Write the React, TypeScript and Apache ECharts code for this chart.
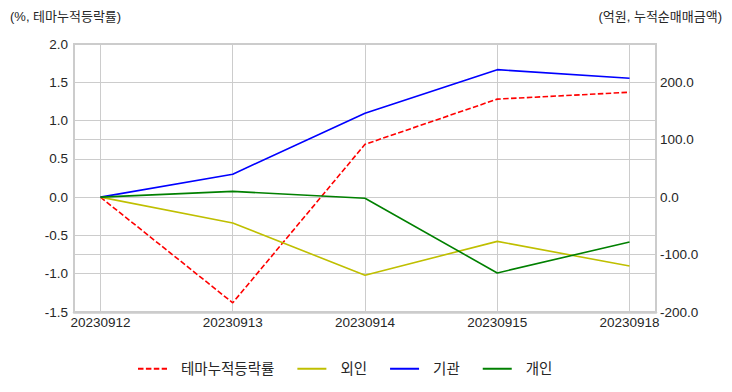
import React, { useEffect, useRef } from "react";
import * as echarts from "echarts";

const categories = ["20230912", "20230913", "20230914", "20230915", "20230918"];
const themeReturn = [0.0, -1.38, 0.69, 1.28, 1.37];
const foreign = [0.0, -45, -136, -77, -120];
const institution = [0.0, 40, 146, 222, 207];
const individual = [0.0, 10, -2, -132, -78];

const leftTitle = "(%, 테마누적등락률)";
const rightTitle = "(억원, 누적순매매금액)";

const FONT = "'Liberation Sans', Arial, 'Noto Sans CJK KR', sans-serif";
const KFONT = "'Liberation Sans', Arial, 'Noto Sans CJK KR', sans-serif";

const toPairs = (arr: number[]) => arr.map((v, i) => [i, v]);

export default function App() {
  const ref = useRef<HTMLDivElement>(null);
  useEffect(() => {
    if (!ref.current) return;
    const chart = echarts.init(ref.current, undefined, { renderer: "svg" });
    const grid = "#cccccc";
    const text = "#262626";
    chart.setOption({
      animation: false,
      backgroundColor: "#ffffff",
      title: [
        {
          text: leftTitle,
          left: 5,
          top: 5,
          textStyle: { fontSize: 13, fontWeight: "normal", color: text, fontFamily: KFONT },
        },
        {
          text: rightTitle,
          right: 5,
          top: 5,
          textStyle: { fontSize: 13, fontWeight: "normal", color: text, fontFamily: KFONT },
        },
      ],
      grid: {
        left: 74,
        right: 76,
        top: 44,
        bottom: 80,
        show: true,
        borderColor: grid,
        borderWidth: 2,
        containLabel: false,
      },
      legend: {
        bottom: 11,
        left: 132,
        itemWidth: 29,
        itemHeight: 10,
        itemGap: 22,
        itemStyle: { opacity: 0 },
        textStyle: { fontSize: 14.5, color: text, fontFamily: KFONT, padding: [0, 0, 0, 9] },
        data: ["테마누적등락률", "외인", "기관", "개인"],
      },
      xAxis: {
        type: "value",
        min: -0.2,
        max: 4.2,
        splitNumber: 4,
        axisLine: { show: true, onZero: false, lineStyle: { color: grid, width: 2.5 } },
        axisTick: { show: false },
        splitLine: { show: true, lineStyle: { color: grid, width: 1 } },
        axisLabel: {
          margin: 4,
          fontSize: 13.5,
          color: text,
          fontFamily: FONT,
          showMinLabel: false,
          showMaxLabel: false,
          formatter: (v: number) => {
            const r = Math.round(v);
            return Math.abs(v - r) < 1e-6 && categories[r] ? categories[r] : "";
          },
        },
      },
      yAxis: [
        {
          type: "value",
          min: -1.5,
          max: 2.0,
          interval: 0.5,
          position: "left",
          axisLine: { show: false },
          axisTick: { show: false },
          splitLine: { show: true, lineStyle: { color: grid, width: 1 } },
          axisLabel: {
            margin: 6,
            fontSize: 13.5,
            color: text,
            fontFamily: FONT,
            formatter: (v: number) => v.toFixed(1),
          },
        },
        {
          type: "value",
          min: -200,
          max: 266.6667,
          interval: 100,
          position: "right",
          axisLine: { show: false },
          axisTick: { show: false },
          splitLine: { show: true, lineStyle: { color: grid, width: 1 } },
          axisLabel: {
            margin: 4,
            fontSize: 13.5,
            color: text,
            fontFamily: FONT,
            showMaxLabel: false,
            formatter: (v: number) => v.toFixed(1),
          },
        },
      ],
      series: [
        {
          name: "테마누적등락률",
          type: "line",
          yAxisIndex: 0,
          data: toPairs(themeReturn),
          symbol: "none",
          itemStyle: { color: "#ff0000" },
          lineStyle: { color: "#ff0000", width: 1.6, type: [5.5, 2.4] },
        },
        {
          name: "외인",
          type: "line",
          yAxisIndex: 1,
          data: toPairs(foreign),
          symbol: "none",
          itemStyle: { color: "#bfbf00" },
          lineStyle: { color: "#bfbf00", width: 1.6 },
        },
        {
          name: "기관",
          type: "line",
          yAxisIndex: 1,
          data: toPairs(institution),
          symbol: "none",
          itemStyle: { color: "#0000ff" },
          lineStyle: { color: "#0000ff", width: 1.6 },
        },
        {
          name: "개인",
          type: "line",
          yAxisIndex: 1,
          data: toPairs(individual),
          symbol: "none",
          itemStyle: { color: "#008000" },
          lineStyle: { color: "#008000", width: 1.6 },
        },
      ],
    });
    return () => chart.dispose();
  }, []);
  return (
    <div
      ref={ref}
      style={{ position: "fixed", left: 0, top: 0, width: 732, height: 392 }}
    />
  );
}
